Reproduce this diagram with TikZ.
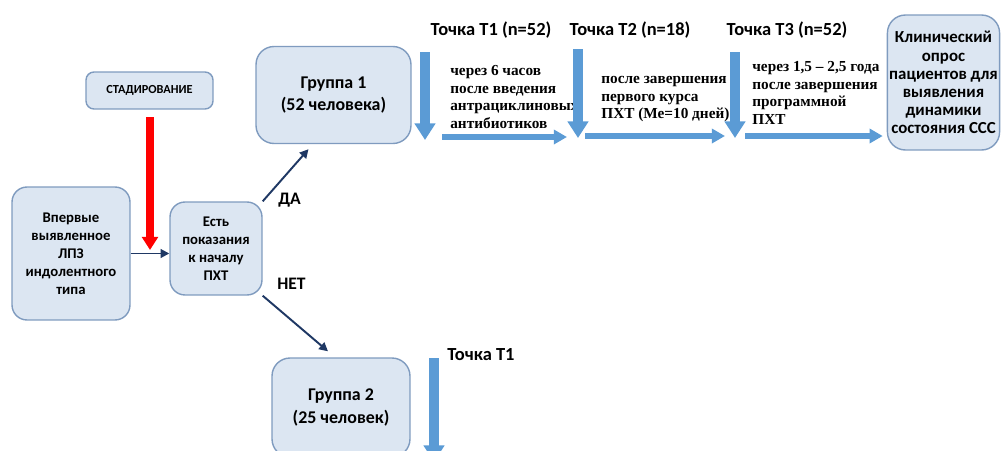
\documentclass[tikz,border=0pt]{standalone}
\usepackage{fontspec}
\setmainfont{Carlito}
\newfontfamily\timesru{Liberation Serif}
\usepackage{xcolor}
\definecolor{paleblue}{HTML}{DCE6F2}
\definecolor{boxedge}{HTML}{7F9BBF}
\definecolor{officeblue}{HTML}{5B9BD5}
\definecolor{navyline}{HTML}{1F3864}
\definecolor{alarmred}{HTML}{FF0000}
\usetikzlibrary{arrows.meta, calc}

\tikzset{
  stage/.style={draw=boxedge, fill=paleblue, line width=0.8pt, rounded corners=0.3cm,
    align=center, inner sep=1pt},
  pointname/.style={font=\bfseries\fontsize{10.5}{12}\selectfont, inner sep=0pt},
  remark/.style={font=\timesru\bfseries\fontsize{8.7}{10}\selectfont, align=left,
    anchor=north west, inner sep=0pt},
  flow/.style={navyline, line width=1.1pt, -{Triangle[width=5pt,length=5pt]}},
  timedrop/.style={officeblue, line width=5.7pt, -{Triangle[width=11.5pt,length=9.5pt]}},
  timerun/.style={officeblue, line width=3pt, -{Triangle[width=8pt,length=7.5pt]}}
}

\begin{document}
\begin{tikzpicture}[x=0.02cm, y=-0.02cm]
  \useasboundingbox (0,0) rectangle (1001,450);
  \clip (0,0) rectangle (1001,450);

  % --- Left part: first diagnosis and staging ---
  \node[stage, minimum width=2.36cm, minimum height=2.66cm,
    font=\bfseries\fontsize{8.4}{10.2}\selectfont] (first) at (71,253.5)
    {Впервые\\выявленное\\ЛПЗ\\индолентного\\типа};
  \node[stage, minimum width=1.84cm, minimum height=1.86cm,
    font=\bfseries\fontsize{8.4}{10.2}\selectfont] (indic) at (216,248.5)
    {Есть\\показания\\к началу\\ПХТ};
  \node[stage, rounded corners=0.16cm, minimum width=2.54cm, minimum height=0.74cm,
    font=\bfseries\fontsize{7}{8}\selectfont] (staging) at (149.5,90.5) {СТАДИРОВАНИЕ};

  \coordinate (redtop) at (150,117);
  \coordinate (redtip) at (150,250);
  \draw[alarmred, line width=4.2pt, -{Triangle[width=9pt,length=7.5pt]}] (redtop) -- (redtip);
  \draw[flow] (first.east) -- (first.east -| indic.west);

  % --- Groups ---
  \node[stage, rounded corners=0.36cm, minimum width=3.1cm, minimum height=1.94cm,
    font=\bfseries\fontsize{10.2}{13}\selectfont] (grp1) at (333.5,95)
    {Группа 1\\(52 человека)};
  \node[stage, rounded corners=0.36cm, minimum width=2.76cm, minimum height=1.98cm,
    font=\bfseries\fontsize{10.2}{13}\selectfont] (grp2) at (341,407.5)
    {Группа 2\\(25 человек)};

  \draw[flow] (indic.north east) -- ($(grp1.south)+(-25,5)$);
  \draw[flow] (indic.south east) -- ($(grp2.north)+(-13,-6)$);
  \node[font=\bfseries\fontsize{10}{12}\selectfont, anchor=west, inner sep=0pt] (yes) at (278,200) {ДА};
  \node[font=\bfseries\fontsize{10}{12}\selectfont, anchor=west, inner sep=0pt] (no) at (277,284) {НЕТ};

  % --- Time points of group 1 ---
  \node[pointname] (pt1) at (491,30) {Точка Т1 (n=52)};
  \node[pointname] (pt2) at (630,30) {Точка Т2 (n=18)};
  \node[pointname] (pt3) at (787,30) {Точка Т3 (n=52)};

  \node[remark] (note1) at (450,65) {через 6 часов\\после введения\\антрациклиновых\\антибиотиков};
  \node[remark] (note2) at (601,76) {после завершения\\первого курса\\ПХТ (Ме=10 дней)};
  \node[remark] (note3) at (752,61) {через 1,5 – 2,5 года\\после завершения\\программной\\ПХТ};

  \node[stage, rounded corners=0.36cm, minimum width=2.24cm, minimum height=2.7cm,
    font=\bfseries\fontsize{9.6}{10.3}\selectfont] (survey) at (943.5,82.5)
    {Клинический\\опрос\\пациентов для\\выявления\\динамики\\состояния ССС};

  \coordinate (d1top) at (425,52);  \coordinate (d1tip) at (425,140);
  \coordinate (d2top) at (578,49);  \coordinate (d2tip) at (578,138);
  \coordinate (d3top) at (735,52);  \coordinate (d3tip) at (735,138);
  \draw[timedrop] (d1top) -- (d1tip);
  \draw[timedrop] (d2top) -- (d2tip);
  \draw[timedrop] (d3top) -- (d3tip);

  \coordinate (r1start) at (442,137); \coordinate (r1end) at (567,137);
  \coordinate (r2start) at (585,136); \coordinate (r2end) at (725,136);
  \coordinate (r3start) at (745,136);
  \draw[timerun] (r1start) -- (r1end);
  \draw[timerun] (r2start) -- (r2end);
  \draw[timerun] (r3start) -- ($(r3start -| survey.west)+(-4,0)$);

  % --- Time point of group 2 ---
  \node[pointname, anchor=west] (pt1b) at (447,355) {Точка Т1};
  \coordinate (d4top) at (434,358); \coordinate (d4tip) at (434,462);
  \draw[timedrop] (d4top) -- (d4tip);
\end{tikzpicture}
\end{document}
